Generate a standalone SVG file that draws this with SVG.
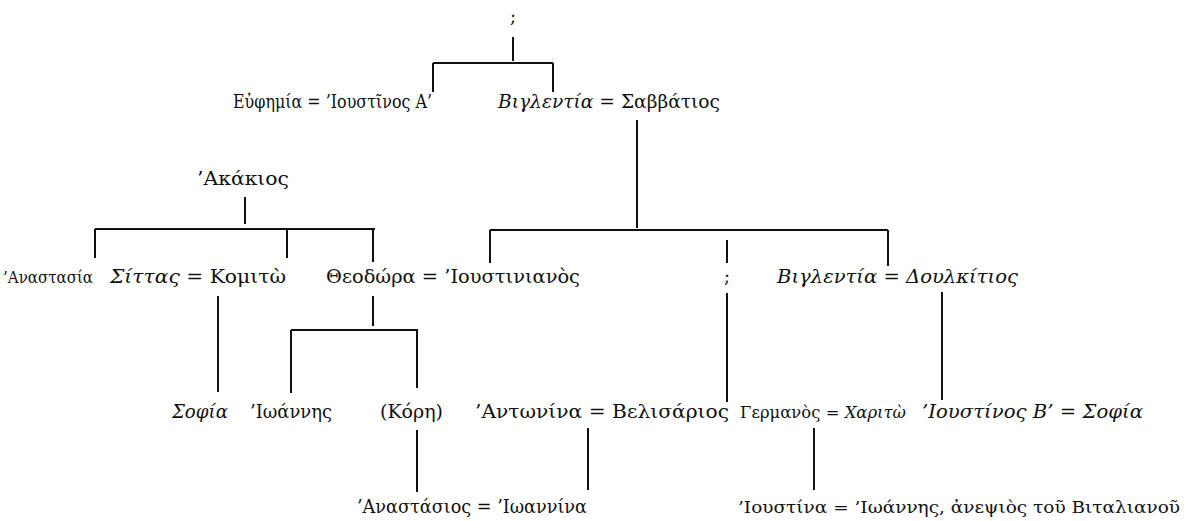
<svg xmlns="http://www.w3.org/2000/svg" width="1189" height="521" viewBox="0 0 1189 521">
<style>
text{font-family:"DejaVu Serif","Liberation Serif",serif;font-size:18px;fill:#111}
.i{font-style:italic}
.c{text-anchor:middle}
.s{font-size:17.5px}
.t{font-size:17px}
#connectors path{stroke:#111;stroke-width:2;fill:none}
</style>
<rect width="1189" height="521" fill="#fff"/>
<g id="connectors">
<path d="M513 37V61M433 63H553M433 63V92M553 63V92"/>
<path d="M637 120V228M490 230H888M490 230V263M727 240V263M888 230V266"/>
<path d="M245 197V224M95 229H375M95 229V258M287 229V258M373 229V262"/>
<path d="M218 296V392M373 296V326M291 330H418M291 330V393M417 330V388"/>
<path d="M727 293V402M942 292V400"/>
<path d="M417 430V492M588 428V490M814 428V490"/>
</g>
<g id="n-root"><text x="513" y="23" class="c">;</text></g>
<g id="n-euphemia"><text x="233" y="108" textLength="199" lengthAdjust="spacingAndGlyphs">Εὐφημία = ’Ιουστῖνος Α’</text></g>
<g id="n-vigilantia1"><text x="498" y="108" textLength="222" lengthAdjust="spacingAndGlyphs"><tspan class="i">Βιγλεντία</tspan> = Σαββάτιος</text></g>
<g id="n-akakios"><text x="197" y="185" textLength="92" lengthAdjust="spacingAndGlyphs">’Ακάκιος</text></g>
<g id="n-anastasia"><text x="3" y="283" class="s" textLength="90" lengthAdjust="spacingAndGlyphs">’Αναστασία</text></g>
<g id="n-sittas"><text x="110" y="283" textLength="176" lengthAdjust="spacingAndGlyphs"><tspan class="i">Σίττας</tspan> = Κομιτὼ</text></g>
<g id="n-theodora"><text x="326" y="283" textLength="254" lengthAdjust="spacingAndGlyphs">Θεοδώρα = ’Ιουστινιανὸς</text></g>
<g id="n-unknown"><text x="727" y="283" class="c">;</text></g>
<g id="n-vigilantia2"><text x="777" y="283" class="i" textLength="241" lengthAdjust="spacingAndGlyphs">Βιγλεντία  = Δουλκίτιος</text></g>
<g id="n-sophia1"><text x="172" y="418" class="i" textLength="56" lengthAdjust="spacingAndGlyphs">Σοφία</text></g>
<g id="n-ioannes"><text x="250" y="418" textLength="82" lengthAdjust="spacingAndGlyphs">’Ιωάννης</text></g>
<g id="n-kore"><text x="380" y="418" textLength="63" lengthAdjust="spacingAndGlyphs">(Κόρη)</text></g>
<g id="n-antonina"><text x="475" y="418" textLength="254" lengthAdjust="spacingAndGlyphs">’Αντωνίνα = Βελισάριος</text></g>
<g id="n-germanos"><text x="740" y="418" class="t" textLength="166" lengthAdjust="spacingAndGlyphs">Γερμανὸς = <tspan class="i">Χαριτὼ</tspan></text></g>
<g id="n-justin2"><text x="922" y="418" class="i" textLength="221" lengthAdjust="spacingAndGlyphs">’Ιουστίνος Β’ = Σοφία</text></g>
<g id="n-anastasios"><text x="357" y="513" textLength="230" lengthAdjust="spacingAndGlyphs">’Αναστάσιος = ’Ιωαννίνα</text></g>
<g id="n-iustina"><text x="738" y="513" class="s" textLength="442" lengthAdjust="spacingAndGlyphs">’Ιουστίνα = ’Ιωάννης, ἀνεψιὸς τοῦ Βιταλιανοῦ</text></g>
</svg>
